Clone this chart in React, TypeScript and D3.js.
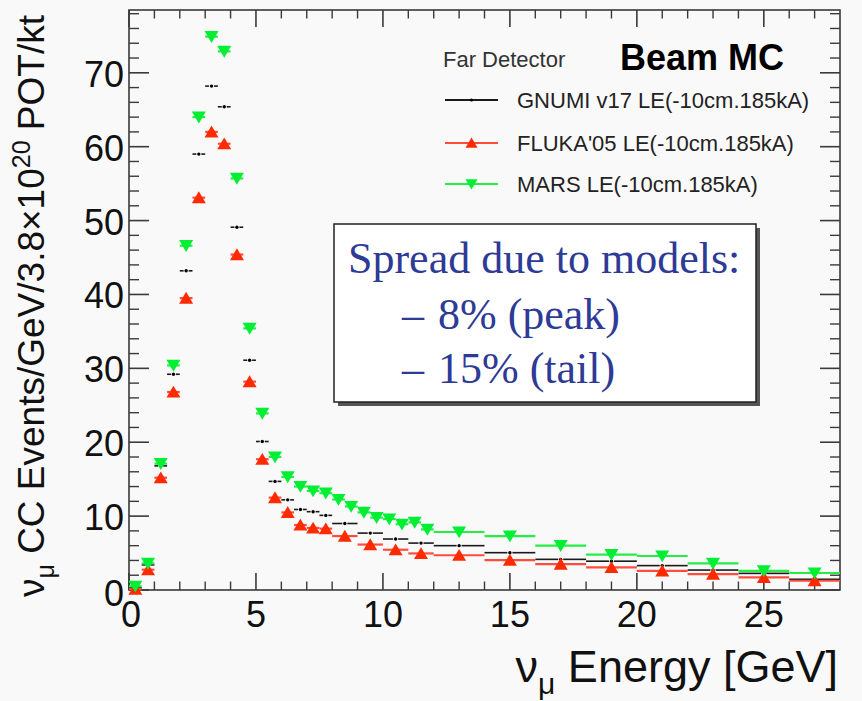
import React from "react";
import * as d3 from "d3";

// ---------- data ----------
// bin edges (GeV) per series
const gnumiEdges = [0, 0.5, 1, 1.5, 2, 2.5, 3, 3.5, 4, 4.5, 5, 5.5, 6, 6.5, 7, 7.5, 8, 9, 10, 11, 12, 14, 16, 18, 20, 22, 24, 26, 28];
const flukaEdges = [0, 0.5, 1, 1.5, 2, 2.5, 3, 3.5, 4, 4.5, 5, 5.5, 6, 6.5, 7, 7.5, 8, 9, 10, 11, 12, 14, 16, 18, 20, 22, 24, 26, 28];
const marsEdges = [0, 0.5, 1, 1.5, 2, 2.5, 3, 3.5, 4, 4.5, 5, 5.5, 6, 6.5, 7, 7.5, 8, 8.5, 9, 9.5, 10, 10.5, 11, 11.5, 12, 14, 16, 18, 20, 22, 24, 26, 28];

// events / GeV / 3.8e20 POT / kt
const gnumiValues = [0.3, 3.4, 16.8, 29.2, 43.2, 59.0, 68.2, 65.4, 49.1, 31.1, 20.1, 14.7, 12.2, 10.9, 10.6, 10.1, 9.0, 7.7, 6.9, 6.35, 6.0, 5.05, 4.15, 3.9, 3.3, 2.7, 2.25, 1.45];
const flukaValues = [0.1, 2.75, 15.2, 26.8, 39.5, 53.1, 62.0, 60.4, 45.4, 28.2, 17.7, 12.5, 10.5, 8.8, 8.4, 8.3, 7.3, 6.15, 5.45, 4.95, 4.7, 4.05, 3.5, 3.05, 2.6, 2.15, 1.7, 1.25];
const marsValues = [0.5, 3.6, 17.1, 30.4, 46.6, 64.0, 74.9, 72.9, 55.7, 35.4, 23.9, 18.0, 15.3, 14.0, 13.4, 13.1, 12.25, 11.3, 10.5, 9.8, 9.6, 8.9, 9.15, 8.2, 7.85, 7.3, 6.0, 4.8, 4.6, 3.6, 2.6, 2.3];

const xMajorTicks = [0, 5, 10, 15, 20, 25];
const xMinorTicks = [1, 2, 3, 4, 6, 7, 8, 9, 11, 12, 13, 14, 16, 17, 18, 19, 21, 22, 23, 24, 26, 27];
const yMajorTicks = [0, 10, 20, 30, 40, 50, 60, 70];
const yMinorTicks = [2, 4, 6, 8, 12, 14, 16, 18, 22, 24, 26, 28, 32, 34, 36, 38, 42, 44, 46, 48, 52, 54, 56, 58, 62, 64, 66, 68, 72, 74, 76, 78];

const legendLabels = ["GNUMI v17 LE(-10cm.185kA)", "FLUKA'05 LE(-10cm.185kA)", "MARS LE(-10cm.185kA)"];
const boxLines = ["Spread due to models:", "8% (peak)", "15% (tail)"];

// ---------- layout ----------
const W = 862;
const H = 701;
const X0 = 129, X1 = 840, Y0 = 590, Y1 = 10;
const SANS = "'Liberation Sans', Arial, Helvetica, sans-serif";
const SERIF = "'Liberation Serif', 'Times New Roman', serif";
const BG = "#f9f9f9";
const AXIS = "#3a3a3a";

const x = d3.scaleLinear().domain([0, 28]).range([X0, X1]);
const y = d3.scaleLinear().domain([0, 78.5]).range([Y0, Y1]);

type Bin = { lo: number; hi: number; v: number };
const bins = (edges: number[], vals: number[]): Bin[] =>
  vals.map((v, i) => ({ lo: edges[i], hi: edges[i + 1], v }));

const upTri = (cx: number, cy: number, s = 7) =>
  `M${cx},${cy - s * 0.9}L${cx + s},${cy + s * 0.8}L${cx - s},${cy + s * 0.8}Z`;
const downTri = (cx: number, cy: number, s = 7) =>
  `M${cx},${cy + s * 0.9}L${cx + s},${cy - s * 0.8}L${cx - s},${cy - s * 0.8}Z`;

function Series({ data, kind }: { data: Bin[]; kind: "black" | "red" | "green" }) {
  const lineColor = kind === "black" ? "#1a1a1a" : kind === "red" ? "#ff4d3d" : "#22ee44";
  const markColor = kind === "red" ? "#ff2a00" : "#00ee33";
  return (
    <g>
      {data.map((b, i) => {
        const cx = x((b.lo + b.hi) / 2);
        const cy = y(b.v);
        const xa = x(b.lo);
        const xb = x(b.hi);
        if (kind === "black") {
          return (
            <g key={i}>
              <line x1={xa} x2={cx - 2.5} y1={cy} y2={cy} stroke={lineColor} strokeWidth={1.6} />
              <line x1={cx + 2.5} x2={xb} y1={cy} y2={cy} stroke={lineColor} strokeWidth={1.6} />
              <circle cx={cx} cy={cy} r={1.7} fill="#000" />
            </g>
          );
        }
        return (
          <g key={i}>
            <line x1={xa} x2={xb} y1={cy} y2={cy} stroke={lineColor} strokeWidth={2.2} />
            <path d={kind === "red" ? upTri(cx, cy) : downTri(cx, cy)} fill={markColor} />
          </g>
        );
      })}
    </g>
  );
}

export default function App() {
  const gnumi = bins(gnumiEdges, gnumiValues);
  const fluka = bins(flukaEdges, flukaValues);
  const mars = bins(marsEdges, marsValues);

  const legY = [100, 143, 184];

  return (
    <div style={{ position: "absolute", left: 0, top: 0, width: W, height: H }}>
      <svg width={W} height={H} viewBox={`0 0 ${W} ${H}`} style={{ display: "block" }}>
        <rect x={0} y={0} width={W} height={H} fill={BG} />

        {/* frame */}
        <rect x={X0} y={Y1} width={X1 - X0} height={Y0 - Y1} fill="none" stroke={AXIS} strokeWidth={1.6} />

        {/* x ticks bottom & top */}
        {xMajorTicks.map((t) => (
          <g key={"xM" + t}>
            <line x1={x(t)} x2={x(t)} y1={Y0} y2={Y0 - 17} stroke={AXIS} strokeWidth={1.6} />
            <line x1={x(t)} x2={x(t)} y1={Y1} y2={Y1 + 17} stroke={AXIS} strokeWidth={1.6} />
            <text x={x(t) + (t === 0 ? 2 : 0)} y={627} textAnchor="middle" fontFamily={SANS} fontSize={36} fill="#111">
              {t}
            </text>
          </g>
        ))}
        {xMinorTicks.map((t) => (
          <g key={"xm" + t}>
            <line x1={x(t)} x2={x(t)} y1={Y0} y2={Y0 - 8.5} stroke={AXIS} strokeWidth={1.4} />
            <line x1={x(t)} x2={x(t)} y1={Y1} y2={Y1 + 8.5} stroke={AXIS} strokeWidth={1.4} />
          </g>
        ))}

        {/* y ticks left & right */}
        {yMajorTicks.map((t) => (
          <g key={"yM" + t}>
            <line x1={X0} x2={X0 + 20} y1={y(t)} y2={y(t)} stroke={AXIS} strokeWidth={1.6} />
            <line x1={X1} x2={X1 - 20} y1={y(t)} y2={y(t)} stroke={AXIS} strokeWidth={1.6} />
            <text x={124} y={y(t) + (t === 0 ? 16 : 14)} textAnchor="end" fontFamily={SANS} fontSize={36} fill="#111">
              {t}
            </text>
          </g>
        ))}
        {yMinorTicks.map((t) => (
          <g key={"ym" + t}>
            <line x1={X0} x2={X0 + 10} y1={y(t)} y2={y(t)} stroke={AXIS} strokeWidth={1.4} />
            <line x1={X1} x2={X1 - 10} y1={y(t)} y2={y(t)} stroke={AXIS} strokeWidth={1.4} />
          </g>
        ))}

        {/* data */}
        <Series data={gnumi} kind="black" />
        <Series data={fluka} kind="red" />
        <Series data={mars} kind="green" />

        {/* axis titles */}
        <text x={838} y={682} textAnchor="end" fontFamily={SANS} fontSize={45} fill="#111">
          ν<tspan fontSize={30} dy={12}>μ</tspan>
          <tspan dy={-12}> Energy [GeV]</tspan>
        </text>
        <text transform="rotate(-90)" x={-15} y={44} textAnchor="end" fontFamily={SANS} fontSize={37} fill="#111">
          ν<tspan fontSize={25} dy={10}>μ</tspan>
          <tspan dy={-10}> CC Events/GeV/3.8×10</tspan>
          <tspan fontSize={25} dy={-14}>20</tspan>
          <tspan dy={14}> POT/kt</tspan>
        </text>

        {/* legend */}
        <text x={443} y={67} fontFamily={SANS} fontSize={22} fill="#333">Far Detector</text>
        <text x={620} y={70} fontFamily={SANS} fontSize={36} fontWeight="bold" fill="#000">Beam MC</text>
        {legendLabels.map((lab, i) => (
          <g key={lab}>
            <line x1={445} x2={498} y1={legY[i]} y2={legY[i]}
              stroke={i === 0 ? "#1a1a1a" : i === 1 ? "#ff4d3d" : "#22ee44"} strokeWidth={2.2} />
            {i === 0 && <circle cx={471.5} cy={legY[i]} r={1.6} fill="#000" />}
            {i === 1 && <path d={upTri(471.5, legY[i], 6)} fill="#ff2a00" />}
            {i === 2 && <path d={downTri(471.5, legY[i], 6)} fill="#00ee33" />}
            <text x={517} y={legY[i] + 8} fontFamily={SANS} fontSize={22} fill="#222">{lab}</text>
          </g>
        ))}

        {/* annotation box */}
        <rect x={338} y={228} width={422} height={178} fill="#555" />
        <rect x={334} y={224} width={422} height={178} fill="#fff" stroke="#222" strokeWidth={1.5} />
        <text x={348} y={273} fontFamily={SERIF} fontSize={44} fill="#2d3a96">{boxLines[0]}</text>
        <text x={402} y={329} fontFamily={SERIF} fontSize={44} fill="#2d3a96">–</text>
        <text x={438} y={329} fontFamily={SERIF} fontSize={44} fill="#2d3a96">{boxLines[1]}</text>
        <text x={402} y={383} fontFamily={SERIF} fontSize={44} fill="#2d3a96">–</text>
        <text x={438} y={383} fontFamily={SERIF} fontSize={44} fill="#2d3a96">{boxLines[2]}</text>
      </svg>
    </div>
  );
}
